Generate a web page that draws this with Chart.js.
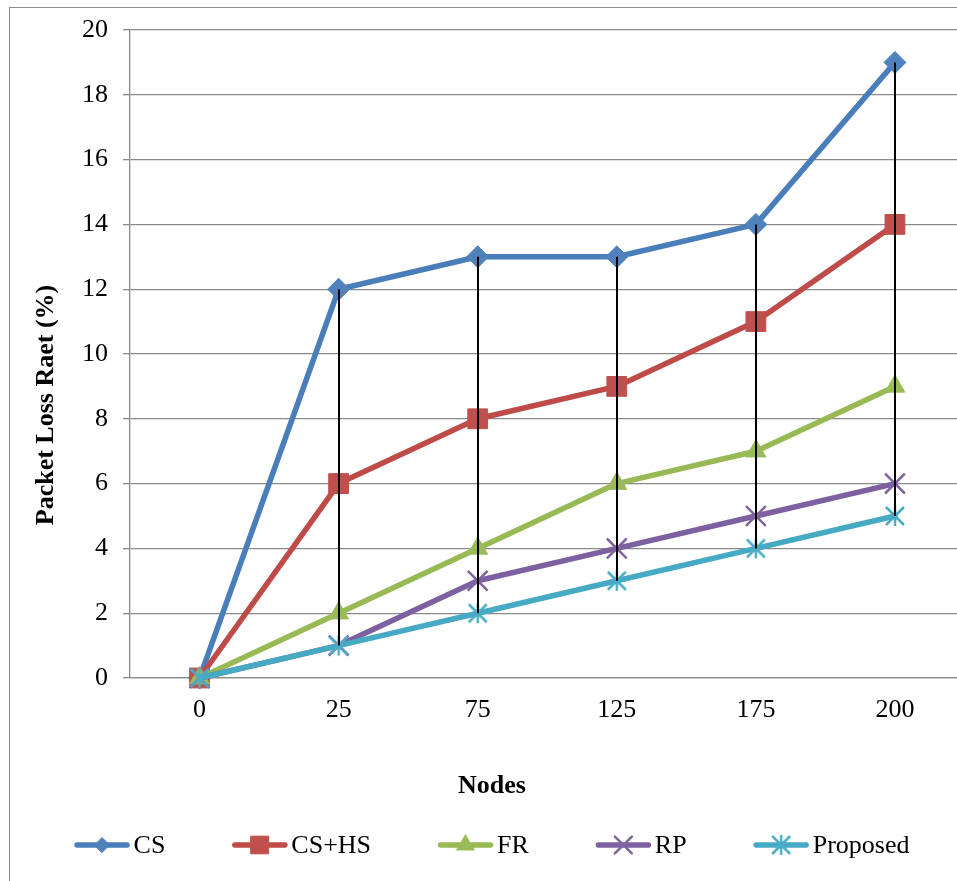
<!DOCTYPE html>
<html>
<head>
<meta charset="utf-8">
<title>Packet Loss Raet vs Nodes</title>
<script src="https://cdn.jsdelivr.net/npm/chart.js@4.4.1/dist/chart.umd.min.js"></script>
<style>
  html, body { margin: 0; padding: 0; background: #fff; overflow: hidden; }
  #box { position: absolute; left: 9px; top: 7px; width: 971px; height: 890px; border: 1px solid #8c8c8c; }
  canvas { display: block; }
</style>
</head>
<body>
<div id="box"><canvas id="lossChart" width="971" height="890"></canvas></div>
<script>
// node counts on the x axis and loss rate (%) per scheme
const nodes = ['0', '25', '75', '125', '175', '200'];
const cs = [0, 12, 13, 13, 14, 19];
const csHs = [0, 6, 8, 9, 11, 14];
const fr = [0, 2, 4, 6, 7, 9];
const rp = [0, 1, 3, 4, 5, 6];
const proposed = [0, 1, 2, 3, 4, 5];
const yMin = 0, yMax = 20, yStep = 2;

const FONT = '"Liberation Serif", "Times New Roman", serif';
const GRID = '#8a8a8a';

// six-armed asterisk marker (x plus a vertical bar)
function asterisk(color, size) {
  const c = document.createElement('canvas');
  c.width = size; c.height = size;
  const g = c.getContext('2d');
  const m = 2, s = size - 2;
  g.strokeStyle = color;
  g.lineWidth = 2.5;
  g.beginPath();
  g.moveTo(size / 2, 1); g.lineTo(size / 2, size - 1);
  g.moveTo(m, m); g.lineTo(s, s);
  g.moveTo(s, m); g.lineTo(m, s);
  g.stroke();
  return c;
}

function series(label, data, line, mark, style, radius, order, legendRadius) {
  return {
    label, data, order,
    borderColor: line,
    borderWidth: 5.5,
    borderJoinStyle: 'round',
    borderCapStyle: 'round',
    tension: 0,
    pointStyle: style,
    pointRadius: radius,
    pointBackgroundColor: mark,
    pointBorderColor: mark,
    pointBorderWidth: (style === 'crossRot') ? 2.5 : 1,
    legendRadius,
    clip: false
  };
}

// black high-low lines joining the top and bottom value at each node count
const hiLoLines = {
  id: 'hiLoLines',
  afterDatasetsDraw(chart) {
    const {ctx, scales: {x, y}} = chart;
    const all = chart.data.datasets.map(d => d.data);
    ctx.save();
    ctx.strokeStyle = '#000';
    ctx.lineWidth = 2;
    nodes.forEach((n, i) => {
      const vals = all.map(a => a[i]);
      const hi = Math.max(...vals), lo = Math.min(...vals);
      if (hi === lo) return;
      const px = Math.round(x.getPixelForValue(i));
      ctx.beginPath();
      ctx.moveTo(px, y.getPixelForValue(hi));
      ctx.lineTo(px, y.getPixelForValue(lo));
      ctx.stroke();
    });
    ctx.restore();
  }
};

// axis titles and the line+marker legend along the bottom
const chartText = {
  id: 'chartText',
  afterDraw(chart) {
    const ctx = chart.ctx;
    const midX = 482;
    ctx.save();
    ctx.fillStyle = '#000';
    ctx.font = 'bold 26px ' + FONT;
    ctx.textAlign = 'center';
    ctx.textBaseline = 'alphabetic';
    ctx.fillText('Nodes', midX, 785);

    ctx.save();
    ctx.translate(43, 397);
    ctx.rotate(-Math.PI / 2);
    ctx.fillText('Packet Loss Raet (%)', 0, 0);
    ctx.restore();

    ctx.font = '26px ' + FONT;
    ctx.textAlign = 'left';
    const lineLen = 55, gap = 67, textGap = 4;
    const items = chart.data.datasets.map(ds => ({ds, w: lineLen + textGap + ctx.measureText(ds.label).width}));
    const total = items.reduce((s, it) => s + it.w, 0) + gap * (items.length - 1);
    let x = midX - total / 2;
    const yLine = 837;
    items.forEach(({ds, w}) => {
      ctx.strokeStyle = ds.borderColor;
      ctx.lineWidth = 5.5;
      ctx.lineCap = 'round';
      ctx.beginPath();
      ctx.moveTo(x + 2.5, yLine);
      ctx.lineTo(x + lineLen - 2.5, yLine);
      ctx.stroke();

      ctx.fillStyle = ds.pointBackgroundColor;
      ctx.strokeStyle = ds.pointBorderColor;
      ctx.lineWidth = ds.pointBorderWidth;
      Chart.helpers.drawPoint(ctx, {
        pointStyle: ds.pointStyle,
        radius: ds.legendRadius,
        borderWidth: ds.pointBorderWidth,
        rotation: 0
      }, x + lineLen / 2, yLine);

      ctx.fillStyle = '#000';
      ctx.fillText(ds.label, x + lineLen + textGap, 845);
      x += w + gap;
    });
    ctx.restore();
  }
};

new Chart(document.getElementById('lossChart'), {
  type: 'line',
  data: {
    labels: nodes,
    datasets: [
      series('CS', cs, '#4A7EBB', '#4F81BD', 'rectRot', 11, 4, 7.5),
      series('CS+HS', csHs, '#BE4B48', '#C0504D', 'rect', 14, 3, 12.5),
      series('FR', fr, '#98B954', '#9BBB59', 'triangle', 11.5, 2, 10),
      series('RP', rp, '#7D60A0', '#8064A2', 'crossRot', 14, 1, 12),
      series('Proposed', proposed, '#46AAC5', '#4BACC6', asterisk('#4BACC6', 22), 11, 0, 10)
    ]
  },
  options: {
    responsive: false,
    animation: false,
    devicePixelRatio: 1,
    layout: { padding: { top: 22, right: 6, bottom: 160, left: 0 } },
    plugins: {
      legend: { display: false },
      tooltip: { enabled: false }
    },
    scales: {
      x: {
        offset: true,
        grid: { display: false, drawTicks: false },
        border: { display: true, color: GRID, width: 1.3 },
        ticks: { color: '#000', font: { family: FONT, size: 26 }, padding: 17, maxRotation: 0 },
        afterFit(s) { s.height = 60; s.paddingLeft = 0; s.paddingRight = 0; }
      },
      y: {
        min: yMin,
        max: yMax,
        ticks: { stepSize: yStep, color: '#000', font: { family: FONT, size: 26 }, padding: 15 },
        grid: { color: GRID, lineWidth: 1.3, tickLength: 7 },
        border: { color: GRID, width: 1.3 },
        afterFit(s) { s.width = 120; s.paddingTop = 0; s.paddingBottom = 0; }
      }
    }
  },
  plugins: [hiLoLines, chartText]
});
</script>
</body>
</html>
